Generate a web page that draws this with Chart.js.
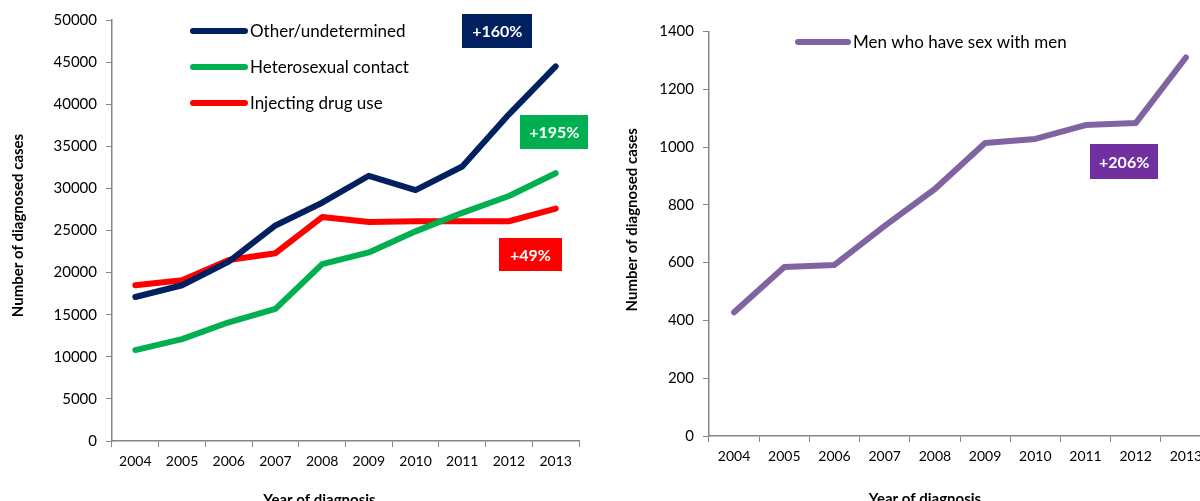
<!DOCTYPE html>
<html>
<head>
<meta charset="utf-8">
<script src="https://cdn.jsdelivr.net/npm/chart.js@4.4.1/dist/chart.umd.min.js"></script>
<style>
  html, body { margin: 0; padding: 0; background: #fff; overflow: hidden; width: 1200px; height: 501px; }
  canvas { position: absolute; top: 0; }
  #routeChart { left: 0; }
  #msmChart { left: 600px; }
</style>
</head>
<body>
<canvas id="routeChart" width="600" height="515"></canvas>
<canvas id="msmChart" width="640" height="515"></canvas>
<script>
const years = ['2004', '2005', '2006', '2007', '2008', '2009', '2010', '2011', '2012', '2013'];

// diagnosed cases by transmission route
const otherUndetermined = [17100, 18500, 21300, 25600, 28300, 31500, 29800, 32600, 38800, 44500];
const heterosexualContact = [10800, 12100, 14100, 15700, 21000, 22400, 24900, 27100, 29100, 31800];
const injectingDrugUse = [18500, 19100, 21500, 22300, 26600, 26000, 26100, 26100, 26100, 27600];
const menWithMen = [428, 585, 592, 727, 855, 1014, 1028, 1076, 1083, 1310];

// change 2004 -> 2013
const routeChanges = ['+160%', '+195%', '+49%'];
const msmChanges = ['+206%'];

const FONT = 'Lato, "Open Sans", sans-serif';
const AXIS_GREY = '#868686';

// legend drawn inside the plot, line sample + label
const insideLegend = {
  id: 'insideLegend',
  afterDraw(chart, args, opts) {
    const ctx = chart.ctx;
    ctx.save();
    ctx.font = '17px ' + FONT;
    ctx.textBaseline = 'middle';
    chart.data.datasets.forEach((ds, i) => {
      const y = opts.y + i * opts.gap;
      ctx.strokeStyle = ds.borderColor;
      ctx.lineWidth = 6;
      ctx.lineCap = 'round';
      ctx.beginPath();
      ctx.moveTo(opts.x, y);
      ctx.lineTo(opts.x + opts.lineLen, y);
      ctx.stroke();
      ctx.fillStyle = '#000';
      ctx.fillText(ds.label, opts.x + opts.lineLen + 5, y + 1);
    });
    ctx.restore();
  }
};

// coloured boxes with the percentage change, placed in data coordinates
const changeBadges = {
  id: 'changeBadges',
  afterDraw(chart, args, opts) {
    const ctx = chart.ctx;
    const xs = chart.scales.x, ys = chart.scales.y;
    ctx.save();
    ctx.font = 'bold 16px ' + FONT;
    ctx.textAlign = 'center';
    ctx.textBaseline = 'middle';
    opts.items.forEach(b => {
      const cx = xs.getPixelForValue(b.at[0]);
      const cy = ys.getPixelForValue(b.at[1]);
      ctx.fillStyle = b.color;
      ctx.fillRect(Math.round(cx - b.w / 2), Math.round(cy - b.h / 2), b.w, b.h);
      ctx.fillStyle = '#fff';
      ctx.fillText(b.text, cx, cy + 1);
    });
    ctx.restore();
  }
};

// axis titles, placed relative to the chart area
const axisTitles = {
  id: 'axisTitles',
  afterDraw(chart, args, opts) {
    const ctx = chart.ctx;
    const area = chart.chartArea;
    ctx.save();
    ctx.font = 'bold 15px ' + FONT;
    ctx.fillStyle = '#000';
    ctx.textAlign = 'center';
    ctx.textBaseline = 'middle';
    ctx.fillText('Year of diagnosis', (area.left + area.right) / 2 + opts.xTitleShift, opts.xTitleY);
    ctx.translate(opts.yTitleX, (area.top + area.bottom) / 2 + opts.yTitleShift);
    ctx.rotate(-Math.PI / 2);
    ctx.fillText('Number of diagnosed cases', 0, 0);
    ctx.restore();
  }
};

function lineSet(label, data, color) {
  return {
    label, data,
    borderColor: color,
    backgroundColor: color,
    borderWidth: 6,
    borderCapStyle: 'round',
    borderJoinStyle: 'round',
    pointRadius: 0,
    tension: 0,
    fill: false
  };
}

function scalesFor(max, step, yWidth, xHeight) {
  return {
    x: {
      offset: true,
      grid: { offset: true, drawOnChartArea: false, drawTicks: true, tickLength: 6, color: AXIS_GREY },
      border: { color: AXIS_GREY, width: 1.5 },
      ticks: { color: '#000', font: { family: FONT, size: 14 }, padding: 6, maxRotation: 0 },
      afterFit: s => { s.height = xHeight; }
    },
    y: {
      min: 0, max: max,
      grid: { drawOnChartArea: false, drawTicks: true, tickLength: 6, color: AXIS_GREY },
      border: { color: AXIS_GREY, width: 1.5 },
      ticks: { stepSize: step, color: '#000', font: { family: FONT, size: 15 }, padding: 9, callback: v => String(v) },
      afterFit: s => { s.width = yWidth; }
    }
  };
}

new Chart(document.getElementById('routeChart'), {
  type: 'line',
  data: {
    labels: years,
    datasets: [
      lineSet('Other/undetermined', otherUndetermined, '#002060'),
      lineSet('Heterosexual contact', heterosexualContact, '#00B050'),
      lineSet('Injecting drug use', injectingDrugUse, '#FF0000')
    ]
  },
  options: {
    responsive: false,
    animation: false,
    layout: { padding: { top: 20, right: 21, left: 0, bottom: 0 } },
    scales: scalesFor(50000, 5000, 112, 74),
    plugins: {
      legend: { display: false },
      tooltip: { enabled: false },
      insideLegend: { x: 193, y: 31, gap: 36, lineLen: 52 },
      axisTitles: { xTitleY: 500, xTitleShift: -26, yTitleX: 18, yTitleShift: -5 },
      changeBadges: {
        items: [
          { text: routeChanges[0], color: '#002060', at: [7.75, 48700], w: 70, h: 34 },
          { text: routeChanges[1], color: '#00B050', at: [8.97, 36700], w: 68, h: 34 },
          { text: routeChanges[2], color: '#FF0000', at: [8.46, 22150], w: 63, h: 33 }
        ]
      }
    }
  },
  plugins: [insideLegend, changeBadges, axisTitles]
});

new Chart(document.getElementById('msmChart'), {
  type: 'line',
  data: {
    labels: years,
    datasets: [
      lineSet('Men who have sex with men', menWithMen, '#8064A2')
    ]
  },
  options: {
    responsive: false,
    animation: false,
    layout: { padding: { top: 31.5, right: 29, left: 0, bottom: 0 } },
    scales: scalesFor(1400, 200, 109, 79),
    plugins: {
      legend: { display: false },
      tooltip: { enabled: false },
      insideLegend: { x: 198, y: 42, gap: 36, lineLen: 50 },
      axisTitles: { xTitleY: 499, xTitleShift: -35, yTitleX: 32, yTitleShift: -14 },
      changeBadges: {
        items: [
          { text: msmChanges[0], color: '#7030A0', at: [7.77, 950], w: 68, h: 35 }
        ]
      }
    }
  },
  plugins: [insideLegend, changeBadges, axisTitles]
});
</script>
</body>
</html>
